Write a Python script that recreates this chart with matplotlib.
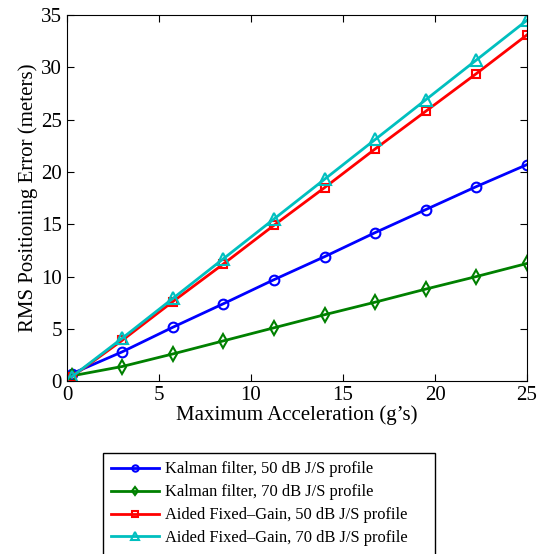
import matplotlib
matplotlib.use('Agg')
import matplotlib.pyplot as plt

plt.rcParams['font.family'] = ['Liberation Serif', 'DejaVu Serif']

accel = [0.25, 3, 5.75, 8.5, 11.25, 14, 16.75, 19.5, 22.25, 25]
kalman_50 = [0.7, 2.8, 5.15, 7.4, 9.7, 11.9, 14.2, 16.4, 18.6, 20.7]
kalman_70 = [0.5, 1.4, 2.6, 3.85, 5.1, 6.35, 7.55, 8.8, 10.0, 11.25]
aided_50 = [0.4, 3.9, 7.6, 11.2, 14.9, 18.5, 22.2, 25.8, 29.4, 33.1]
aided_70 = [0.4, 4.1, 7.9, 11.7, 15.5, 19.3, 23.1, 26.9, 30.7, 34.5]

labels = ['Kalman filter, 50 dB J/S profile',
          'Kalman filter, 70 dB J/S profile',
          'Aided Fixed\u2013Gain, 50 dB J/S profile',
          'Aided Fixed\u2013Gain, 70 dB J/S profile']

fig = plt.figure(figsize=(5.4, 5.54), dpi=100)
ax = fig.add_axes([0.124, 0.312, 0.852, 0.661])

ax.plot(accel, kalman_50, color='#0000ff', lw=2, marker='o', ms=7, mfc='none', mew=1.5, label=labels[0])
ax.plot(accel, kalman_70, color='#008000', lw=2, marker='d', ms=7, mfc='none', mew=1.5, label=labels[1])
ax.plot(accel, aided_50, color='#ff0000', lw=2, marker='s', ms=6, mfc='none', mew=1.5, label=labels[2])
ax.plot(accel, aided_70, color='#00bfbf', lw=2, marker='^', ms=8, mfc='none', mew=1.5, label=labels[3])

ax.set_xlim(0, 25)
ax.set_ylim(0, 35)
ax.set_xticks([0, 5, 10, 15, 20, 25])
ax.set_yticks([0, 5, 10, 15, 20, 25, 30, 35])
ax.tick_params(direction='in', top=True, right=True, labelsize=15, length=5)
ax.set_xlabel('Maximum Acceleration (g\u2019s)', fontsize=15, labelpad=0)
ax.set_ylabel('RMS Positioning Error (meters)', fontsize=15, labelpad=2)

# legend box sits below the axes, wider than its text (MATLAB style)
leg = fig.legend(loc='upper left', bbox_to_anchor=(0.191, 0.082, 0.615, 0.1), mode='expand',
                 fontsize=11.9, fancybox=False, edgecolor='black', framealpha=1, borderaxespad=0,
                 borderpad=0.5, handlelength=2.9, handletextpad=0.35,
                 labelspacing=0.42, markerscale=0.65)
leg.get_frame().set_linewidth(1)

fig.savefig('out.png', dpi=100)
